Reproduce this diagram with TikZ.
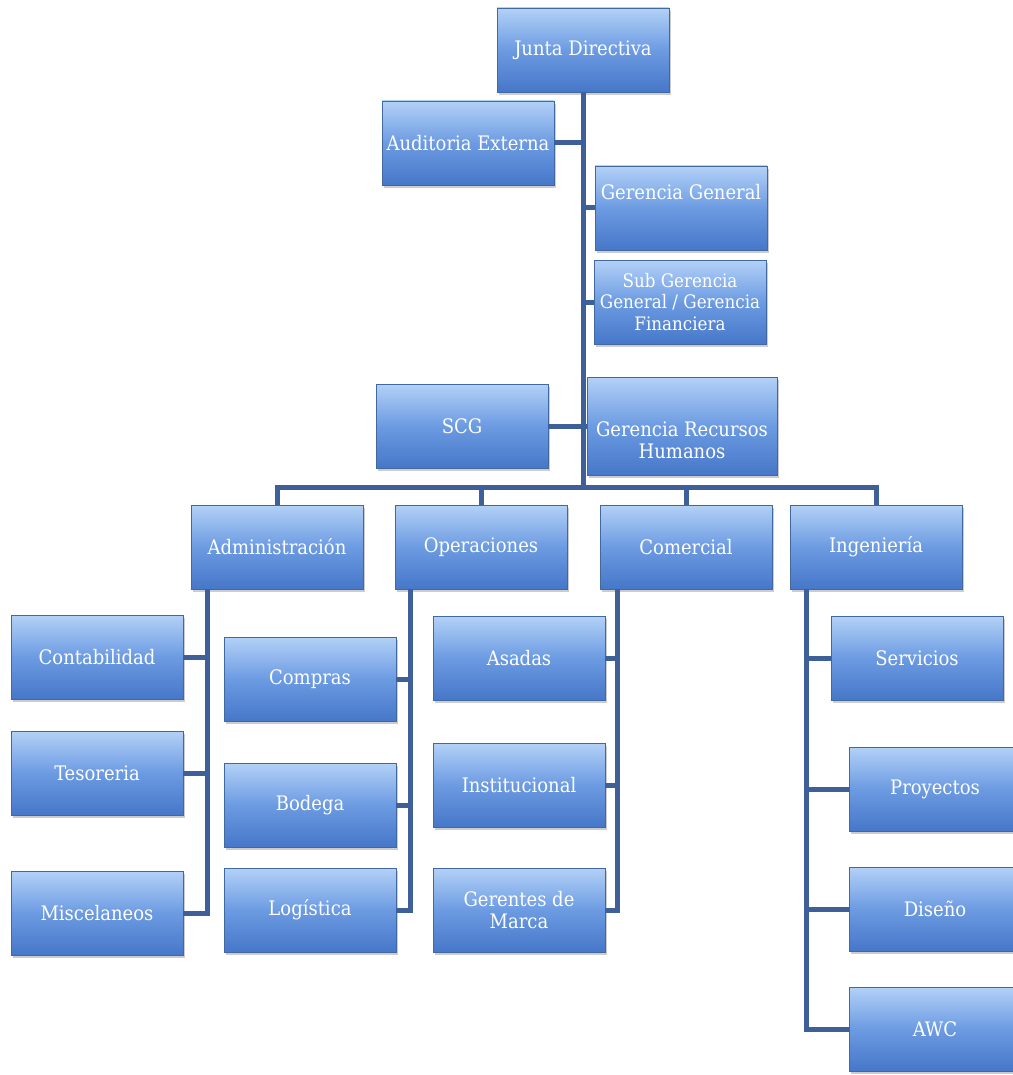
\documentclass[tikz,border=0pt]{standalone}
\usepackage{fontspec}
\setmainfont{DejaVu Serif Condensed}
\usetikzlibrary{shadows}

\definecolor{boxtop}{HTML}{B3D1F7}
\definecolor{boxmid}{HTML}{6C9BE2}
\definecolor{boxbot}{HTML}{4677C8}
\definecolor{boxline}{HTML}{41699F}
\definecolor{linkblue}{HTML}{3E5F98}

\begin{document}
\begin{tikzpicture}[x=0.5pt, y=-0.5pt]
	\tikzset{unit/.style={shape = rectangle, draw = boxline, line width = 0.4pt,
			top color = boxtop, bottom color = boxbot, middle color = boxmid,
			minimum width = 86pt, minimum height = 42pt, inner sep = 1pt,
			align = center, text = white, font = \fontsize{10}{10.8}\selectfont,
			drop shadow = {opacity = 0.4, shadow xshift = 1pt, shadow yshift = -1.4pt}}}
	\tikzset{link/.style={draw = linkblue, line width = 2.5pt}}
	\useasboundingbox (0,0) rectangle (1012,1075);
	%units
	\node[unit] (junta) at (583, 50) {Junta Directiva};
	\node[unit] (audit) at (468, 143) {Auditoria Externa};
	\node[unit, text depth = 16pt] (gergen) at (681, 208) {Gerencia General};
	\node[unit, font = \fontsize{9.3}{10.8}\selectfont] (subger) at (680, 302) {Sub Gerencia\\General / Gerencia\\Financiera};
	\node[unit] (scg) at (462, 426) {SCG};
	\node[unit, minimum width = 95pt, minimum height = 49pt, text height = 34pt, text depth = 2pt] (rrhh) at (682, 426) {Gerencia Recursos\\Humanos};
	\node[unit] (admin) at (277, 547) {Administración};
	\node[unit] (oper) at (481, 547) {Operaciones};
	\node[unit] (comer) at (686, 547) {Comercial};
	\node[unit] (ingen) at (876, 547) {Ingeniería};
	\node[unit] (conta) at (97, 657) {Contabilidad};
	\node[unit] (tesor) at (97, 773) {Tesoreria};
	\node[unit] (misce) at (97, 913) {Miscelaneos};
	\node[unit] (compr) at (310, 679) {Compras};
	\node[unit] (bodeg) at (310, 805) {Bodega};
	\node[unit] (logis) at (310, 910) {Logística};
	\node[unit] (asada) at (519, 658) {Asadas};
	\node[unit] (insti) at (519, 785) {Institucional};
	\node[unit] (geren) at (519, 910) {Gerentes de\\Marca};
	\node[unit] (servi) at (917, 658) {Servicios};
	\node[unit] (proye) at (935, 789) {Proyectos};
	\node[unit] (disen) at (935, 909) {Diseño};
	\node[unit] (awc) at (935, 1029) {AWC};
	%links
	\coordinate (hub) at (583, 487);
	\coordinate (admtrunk) at ([xshift = 8.5pt]admin.south west);
	\coordinate (optrunk) at ([xshift = 8pt]oper.south west);
	\coordinate (comtrunk) at ([xshift = 9pt]comer.south west);
	\coordinate (ingtrunk) at ([xshift = 8.5pt]ingen.south west);
	\draw[link] (junta) -- (hub);
	\draw[link] (audit.east) -- (audit.east -| hub);
	\draw[link] (gergen.west) -- (gergen.west -| hub);
	\draw[link] (subger.west) -- (subger.west -| hub);
	\draw[link] (scg.east) -- (scg.east -| rrhh.west);
	\draw[link] (admin) |- (hub) -| (ingen);
	\draw[link] (oper) -- (oper |- hub);
	\draw[link] (comer) -- (comer |- hub);
	\draw[link] (admtrunk) |- (misce.east);
	\draw[link] (conta.east) -- (conta.east -| admtrunk);
	\draw[link] (tesor.east) -- (tesor.east -| admtrunk);
	\draw[link] (optrunk) |- (logis.east);
	\draw[link] (compr.east) -- (compr.east -| optrunk);
	\draw[link] (bodeg.east) -- (bodeg.east -| optrunk);
	\draw[link] (comtrunk) |- (geren.east);
	\draw[link] (asada.east) -- (asada.east -| comtrunk);
	\draw[link] (insti.east) -- (insti.east -| comtrunk);
	\draw[link] (ingtrunk) |- (awc.west);
	\draw[link] (servi.west) -- (servi.west -| ingtrunk);
	\draw[link] (proye.west) -- (proye.west -| ingtrunk);
	\draw[link] (disen.west) -- (disen.west -| ingtrunk);
\end{tikzpicture}
\end{document}
